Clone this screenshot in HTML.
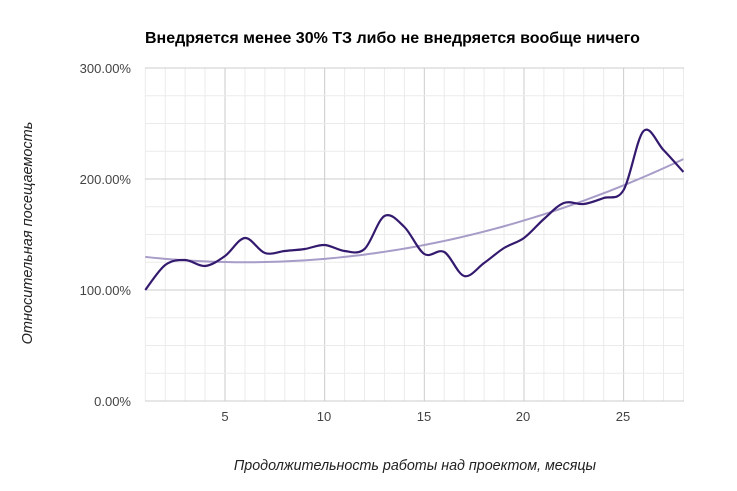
<!DOCTYPE html>
<html><head><meta charset="utf-8"><style>
body{margin:0;background:#fff;}
svg{display:block;font-family:"Liberation Sans",sans-serif;}
</style></head><body>
<svg id="s" width="737" height="491" xmlns="http://www.w3.org/2000/svg">
<rect width="737" height="491" fill="#fff"/>
<text x="145" y="43" font-size="16" font-weight="bold" fill="#000">Внедряется менее 30% ТЗ либо не внедряется вообще ничего</text>
<g id="grid"></g>
<g font-size="13" fill="#444" text-anchor="end">
<text x="131" y="73">300.00%</text>
<text x="131" y="184">200.00%</text>
<text x="131" y="295">100.00%</text>
<text x="131" y="406">0.00%</text>
</g>
<g font-size="13" fill="#444" text-anchor="middle">
<text x="225" y="421">5</text>
<text x="324" y="421">10</text>
<text x="424" y="421">15</text>
<text x="523" y="421">20</text>
<text x="623" y="421">25</text>
</g>
<text x="415" y="470" font-size="14.3" font-style="italic" fill="#222" text-anchor="middle">Продолжительность работы над проектом, месяцы</text>
<text transform="translate(32,233) rotate(-90)" font-size="14.5" font-style="italic" fill="#222" text-anchor="middle">Относительная посещаемость</text>
<path id="trend" fill="none" stroke="#a89cc8" stroke-width="2"/>
<path id="data" fill="none" stroke="#341a6e" stroke-width="2.2"/>
</svg>
<script>
var g=document.getElementById('grid'),h='';
function px(m){return 145.3+(m-1)*19.93;}
for(var m=1;m<=28;m++){var x=px(m);var maj=(m%5==0);h+='<line x1="'+x+'" y1="68" x2="'+x+'" y2="401" stroke="'+(maj?'#ccc':'#ebebeb')+'" stroke-width="1"/>';}
for(var i=0;i<=12;i++){var y=401-i*27.75;var maj=(i%4==0);h+='<line x1="145" y1="'+y+'" x2="684" y2="'+y+'" stroke="'+(maj?'#ccc':'#ebebeb')+'" stroke-width="1"/>';}
g.innerHTML=h;
var ys=[290,265,260,266,256,238,253,251,249,245,251,249,216,227,254,252,276,263,248,238,219,203,204,198,190,131,150,172];
var P=ys.map(function(y,i){return [px(i+1),y];});
var d='M'+P[0][0]+','+P[0][1];
for(var i=0;i<P.length-1;i++){var p0=P[Math.max(i-1,0)],p1=P[i],p2=P[i+1],p3=P[Math.min(i+2,P.length-1)];
var c1=[p1[0]+(p2[0]-p0[0])/6,p1[1]+(p2[1]-p0[1])/6],c2=[p2[0]-(p3[0]-p1[0])/6,p2[1]-(p3[1]-p1[1])/6];
d+=' C'+c1+' '+c2+' '+p2;}
document.getElementById('data').setAttribute('d',d);
var t='';for(var m=1;m<=28;m+=0.25){var v=125+0.192*(m-6)*(m-6);t+=(t?'L':'M')+px(m)+','+(401-1.11*v);}
document.getElementById('trend').setAttribute('d',t);
</script>
</body></html>
